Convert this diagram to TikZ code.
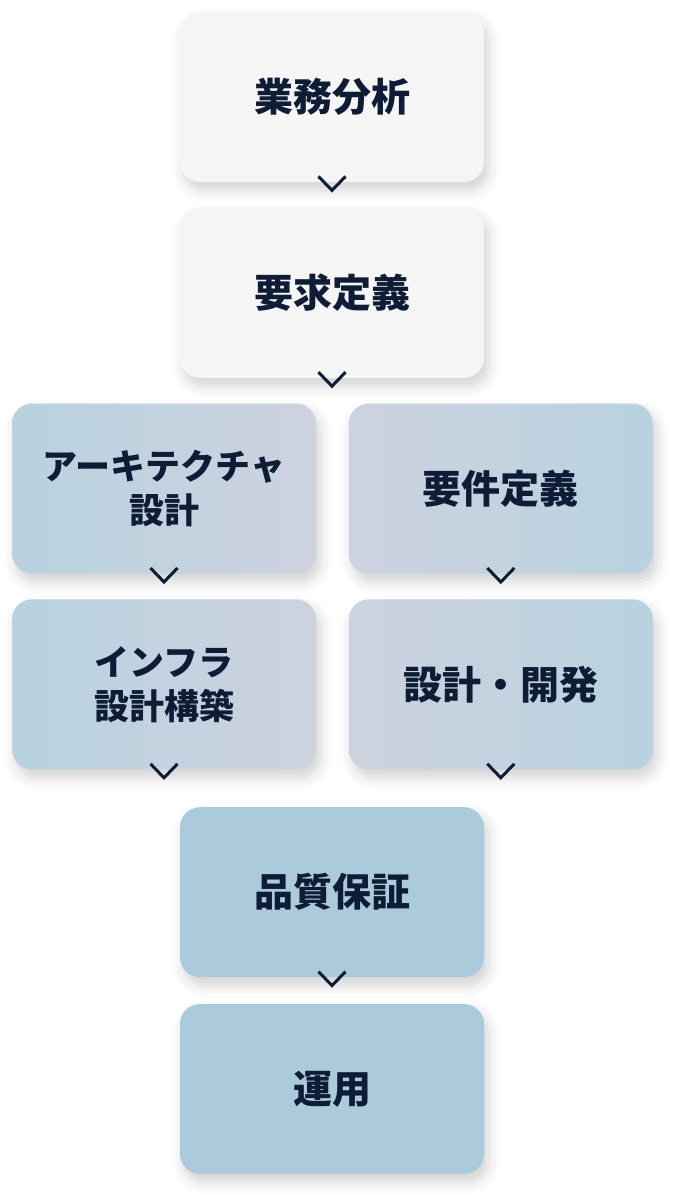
\documentclass[tikz,border=0pt]{standalone}
\usepackage{fontspec}
\newfontfamily\jpfont{Noto Sans CJK JP}
\usetikzlibrary{positioning,shadows.blur}

\definecolor{ink}{HTML}{0E1C36}
\definecolor{paleGrey}{HTML}{F5F5F5}
\definecolor{steelBlue}{HTML}{ABCADB}
\definecolor{fadeBlue}{HTML}{B8D2DF}
\definecolor{fadeGrey}{HTML}{CED2DF}

\begin{document}
\begin{tikzpicture}[>=latex]

    %
    % Styles for phases, and chevrons
    %
    \tikzstyle{phase} = [rectangle, rounded corners=10pt, align=center, inner sep=0pt,
                         minimum width=152pt, minimum height=85pt, text=ink,
                         font={\jpfont\bfseries\fontsize{19.5pt}{24pt}\selectfont},
                         blur shadow={shadow xshift=2pt, shadow yshift=-4pt,
                                      shadow blur radius=6pt, shadow opacity=18}]
    \tikzstyle{twoLine} = [font={\jpfont\bfseries\fontsize{17.5pt}{22pt}\selectfont}];
    \tikzstyle{plainPhase} = [phase, fill=paleGrey];
    \tikzstyle{leftFade} = [phase, left color=fadeBlue, right color=fadeGrey];
    \tikzstyle{rightFade} = [phase, left color=fadeGrey, right color=fadeBlue];
    \tikzstyle{solidPhase} = [phase, fill=steelBlue];
    \tikzstyle{chevron} = [ink, line width=1.5pt, line join=miter];

    \useasboundingbox (0,0) rectangle (340pt,-599pt);

    %
    % Position phases
    %
    \node[plainPhase, name=gyomu] at (166pt,-48.5pt) {業務分析};
    \node[plainPhase, name=yokyu, below = 12.5pt of gyomu] {要求定義};
    \node[leftFade, twoLine, name=arch, below = 12.5pt of yokyu, xshift=-84pt] {アーキテクチャ\\設計};
    \node[rightFade, name=yoken, right = 16pt of arch] {要件定義};
    \node[leftFade, twoLine, name=infra, below = 12.5pt of arch] {インフラ\\設計構築};
    \node[rightFade, name=dev, below = 12.5pt of yoken] {設計・開発};
    \node[solidPhase, name=qa, below = 18.5pt of infra, xshift=84pt] {品質保証};
    \node[solidPhase, name=ops, below = 13pt of qa] {運用};

    %
    % Chevrons under each phase
    %
    \foreach \n in {gyomu,yokyu,arch,yoken,infra,dev,qa}
      \draw[chevron] ([xshift=-6.75pt,yshift=3pt]\n.south) -- ++(6.75pt,-7pt) -- ++(6.75pt,7pt);
  \end{tikzpicture}
\end{document}
